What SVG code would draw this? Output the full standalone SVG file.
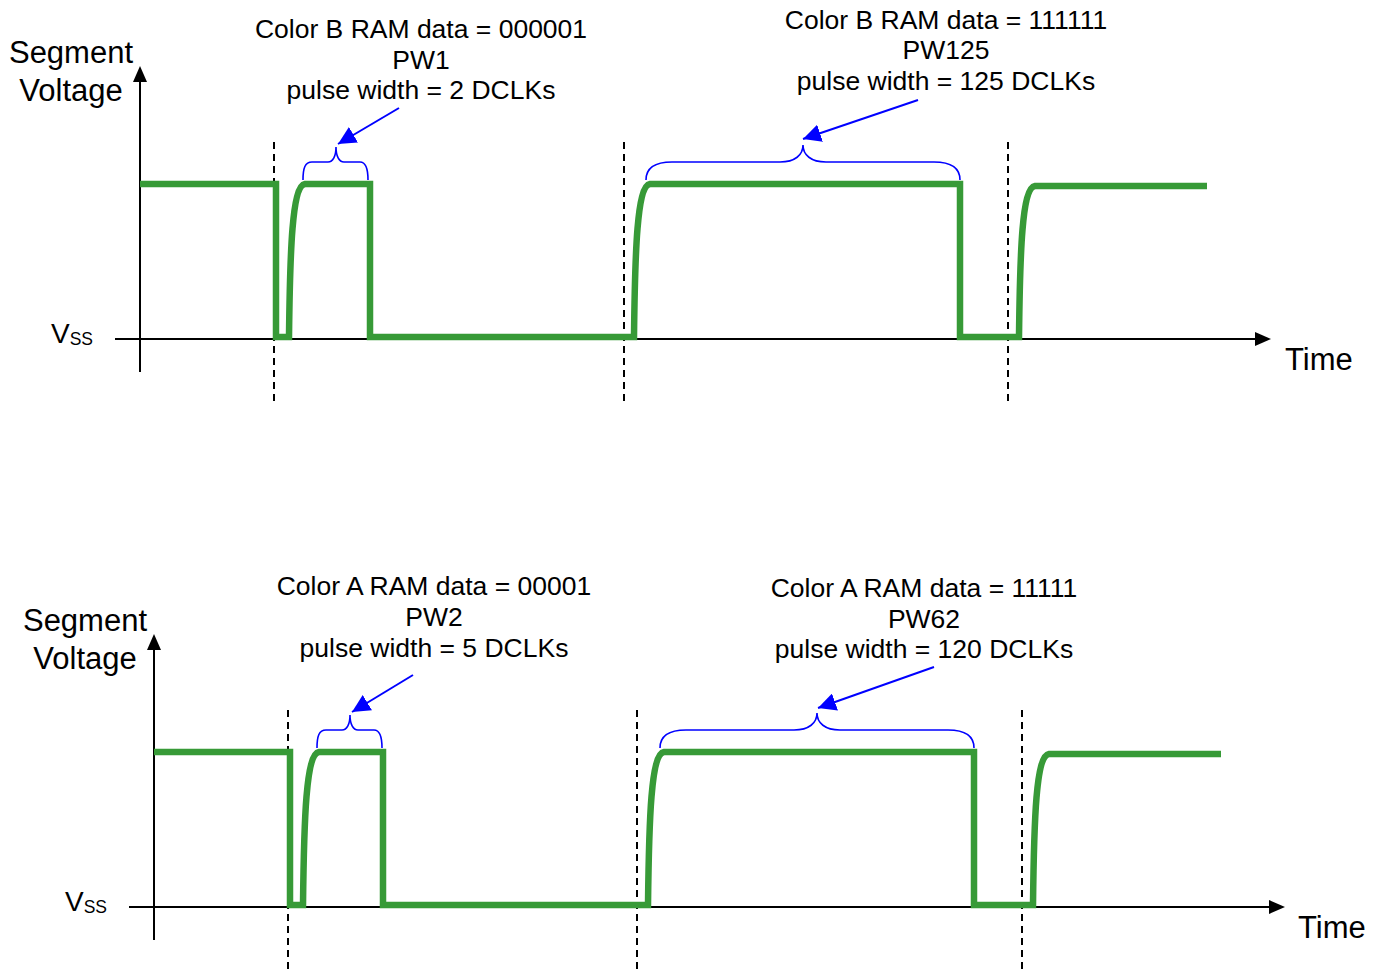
<svg xmlns="http://www.w3.org/2000/svg" width="1377" height="970" viewBox="0 0 1377 970">
<style>
text{font-family:"Liberation Sans",Arial,sans-serif;fill:#000}
.lbl{font-size:26.5px;text-anchor:middle}
.ax{font-size:31px}
.axm{font-size:31px;text-anchor:middle}
.v{font-size:28px}
.sub{font-size:17.5px}
.axis{stroke:#000;stroke-width:2;fill:none}
.dash{stroke:#000;stroke-width:2;stroke-dasharray:7,5;fill:none}
.sig{stroke:#379a37;stroke-width:6.5;fill:none;stroke-linejoin:miter}
.brace{stroke:#0000ff;stroke-width:1.6;fill:none}
.ptr{stroke:#0000ff;stroke-width:2;fill:none}
</style>
<defs>
<marker id="bh" viewBox="0 0 10 10" refX="10" refY="5" markerWidth="9" markerHeight="9" markerUnits="strokeWidth" orient="auto"><path d="M0,0 L10,5 L0,10 z" fill="#0000ff"/></marker>
</defs>

<g id="panel-top">
<g id="top-axes">
<path class="axis" d="M140,372 V70"/>
<path d="M133,82 L140,66 L147,82 z" fill="#000"/>
<path class="axis" d="M115,339 H1256"/>
<path d="M1255,332 L1271,339 L1255,346 z" fill="#000"/>
</g>
<g id="top-dashes">
<path class="dash" d="M274,142 V402"/>
<path class="dash" d="M624,142 V402"/>
<path class="dash" d="M1008,142 V402"/>
</g>
<g id="top-signal">
<path class="sig" d="M140,184 H276 V337 H289 C290,250 292,186 305,184 H370 V337 H634 C635,250 637,186 650,184 H960 V337 H1019 C1020,250 1022,188 1035,186 H1207"/>
</g>
<g id="top-braces">
<path class="brace" d="M303,180 C303,168 305,162 312,162 H328 C333,162 336,156 336,147 C336,156 339,162 344,162 H360 C366,162 368,168 368,180"/>
<path class="brace" d="M646,180 C646,170 652,162 672,162 H780 C795,162 803,155 803,145 C803,155 811,162 826,162 H934 C954,162 960,170 960,180"/>
</g>
<g id="top-texts">
<text class="axm" x="71" y="63">Segment</text>
<text class="axm" x="71" y="101">Voltage</text>
<text x="51" y="343"><tspan class="v">V</tspan><tspan class="sub" dy="2">SS</tspan></text>
<text class="ax" x="1285" y="370">Time</text>
<text class="lbl" x="421" y="38">Color B RAM data = 000001</text>
<text class="lbl" x="421" y="69">PW1</text>
<text class="lbl" x="421" y="99">pulse width = 2 DCLKs</text>
<text class="lbl" x="946" y="29">Color B RAM data = 111111</text>
<text class="lbl" x="946" y="59">PW125</text>
<text class="lbl" x="946" y="90">pulse width = 125 DCLKs</text>
</g>
</g>

<g id="panel-bottom">
<g id="bottom-axes">
<path class="axis" d="M154,940 V638"/>
<path d="M147,650 L154,634 L161,650 z" fill="#000"/>
<path class="axis" d="M129,907 H1270"/>
<path d="M1269,900 L1285,907 L1269,914 z" fill="#000"/>
</g>
<g id="bottom-dashes">
<path class="dash" d="M288,710 V970"/>
<path class="dash" d="M637,710 V970"/>
<path class="dash" d="M1022,710 V970"/>
</g>
<g id="bottom-signal">
<path class="sig" d="M154,752 H290 V905 H303 C304,818 306,754 319,752 H383 V905 H648 C649,818 651,754 664,752 H974 V905 H1033 C1034,818 1036,756 1049,754 H1221"/>
</g>
<g id="bottom-braces">
<path class="brace" d="M317,748 C317,736 319,730 326,730 H342 C347,730 350,724 350,715 C350,724 353,730 358,730 H374 C380,730 382,736 382,748"/>
<path class="brace" d="M660,748 C660,738 666,730 686,730 H794 C809,730 817,723 817,713 C817,723 825,730 840,730 H948 C968,730 974,738 974,748"/>
</g>
<g id="bottom-texts">
<text class="axm" x="85" y="631">Segment</text>
<text class="axm" x="85" y="669">Voltage</text>
<text x="65" y="911"><tspan class="v">V</tspan><tspan class="sub" dy="2">SS</tspan></text>
<text class="ax" x="1298" y="938">Time</text>
<text class="lbl" x="434" y="595">Color A RAM data = 00001</text>
<text class="lbl" x="434" y="626">PW2</text>
<text class="lbl" x="434" y="657">pulse width = 5 DCLKs</text>
<text class="lbl" x="924" y="597">Color A RAM data = 11111</text>
<text class="lbl" x="924" y="628">PW62</text>
<text class="lbl" x="924" y="658">pulse width = 120 DCLKs</text>
</g>
</g>

<g id="connectors">
<path class="ptr" d="M399,108 L338,144" marker-end="url(#bh)"/>
<path class="ptr" d="M918,100 L803,139" marker-end="url(#bh)"/>
<path class="ptr" d="M413,675 L352,712" marker-end="url(#bh)"/>
<path class="ptr" d="M934,667 L818,708" marker-end="url(#bh)"/>
</g>
</svg>
